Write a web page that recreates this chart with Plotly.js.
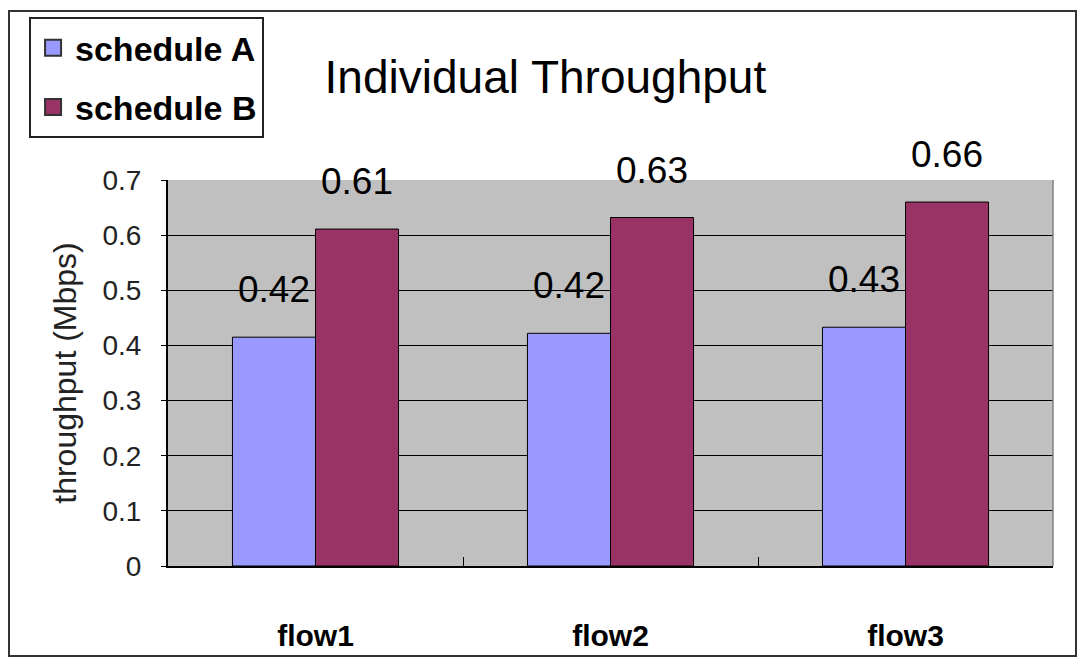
<!DOCTYPE html>
<html>
<head>
<meta charset="utf-8">
<script src="https://cdn.plot.ly/plotly-3.0.1.min.js"></script>
<style>
  html, body { margin: 0; padding: 0; background: #fff; }
  #wrap { position: relative; width: 1080px; height: 659px; }
  #chart { position: absolute; left: 0; top: 0; width: 1080px; height: 659px; }
  #frame { position: absolute; left: 8px; top: 10px; width: 1065px; height: 643px;
           border: 2px solid #333; pointer-events: none; }
</style>
</head>
<body>
<div id="wrap">
  <div id="chart"></div>
  <div id="frame"></div>
</div>
<script>
const categories = ["flow1", "flow2", "flow3"];
const scheduleA = [0.415, 0.422, 0.433];
const scheduleB = [0.611, 0.632, 0.660];
const labelsA = ["0.42", "0.42", "0.43"];
const labelsB = ["0.61", "0.63", "0.66"];
const yTicks = [0, 0.1, 0.2, 0.3, 0.4, 0.5, 0.6, 0.7];
const yTickText = ["0", "0.1", "0.2", "0.3", "0.4", "0.5", "0.6", "0.7"];

const FONT = "Liberation Sans, Arial, sans-serif";
const colA = "#9999ff";
const colB = "#993366";

const traces = [
  { type: "bar", name: "schedule A", x: categories, y: scheduleA,
    marker: { color: colA, line: { color: "#000", width: 1 } }, showlegend: false },
  { type: "bar", name: "schedule B", x: categories, y: scheduleB,
    marker: { color: colB, line: { color: "#000", width: 1 } }, showlegend: false },
  { type: "scatter", mode: "markers", name: "schedule A", x: [null], y: [null],
    legendgroup: "a", marker: { symbol: "square", size: 16, color: colA, line: { color: "#333", width: 2 } } },
  { type: "scatter", mode: "markers", name: "schedule B", x: [null], y: [null],
    legendgroup: "b", marker: { symbol: "square", size: 16, color: colB, line: { color: "#333", width: 2 } } }
];

const annotations = [];
categories.forEach((c, i) => {
  annotations.push({ x: c, y: scheduleA[i], text: labelsA[i], xref: "x", yref: "y",
    showarrow: false, xshift: -41.5, yshift: 25, yanchor: "bottom",
    font: { family: FONT, size: 37, color: "#000" } });
  annotations.push({ x: c, y: scheduleB[i], text: labelsB[i], xref: "x", yref: "y",
    showarrow: false, xshift: 41.5, yshift: 25, yanchor: "bottom",
    font: { family: FONT, size: 37, color: "#000" } });
});

const layout = {
  width: 1080, height: 659,
  margin: { l: 168, r: 27, t: 180, b: 93 },
  paper_bgcolor: "#ffffff",
  plot_bgcolor: "#c0c0c0",
  font: { family: FONT, color: "#000" },
  title: { text: "Individual Throughput", x: 0.505, xanchor: "center", y: 0.883, yanchor: "middle",
           font: { family: FONT, size: 46, color: "#000" } },
  barmode: "group",
  bargap: 0.437,
  bargroupgap: 0,
  showlegend: true,
  legend: {
    x: -0.157, xanchor: "left", y: 1.422, yanchor: "top",
    bgcolor: "#fff", bordercolor: "#222", borderwidth: 2,
    font: { family: FONT, size: 34, color: "#000", weight: "bold" },
    traceorder: "grouped", tracegroupgap: 12, itemwidth: 34
  },
  xaxis: {
    type: "category",
    showgrid: false,
    showline: true, linecolor: "#000", linewidth: 2,
    ticks: "inside", tickson: "boundaries", ticklen: 9, tickcolor: "#000", tickwidth: 1,
    ticklabelstandoff: 42,
    tickfont: { family: FONT, size: 30, color: "#000", weight: "bold" },
    fixedrange: true
  },
  yaxis: {
    range: [0, 0.7],
    tickvals: yTicks, ticktext: yTickText,
    showgrid: true, gridcolor: "#000", gridwidth: 1,
    zeroline: false,
    showline: true, linecolor: "#000", linewidth: 2,
    ticks: "outside", ticklen: 5, tickcolor: "#000",
    ticklabelstandoff: 14,
    tickfont: { family: FONT, size: 28, color: "#222" },
    title: { text: "throughput (Mbps)", standoff: 16, font: { family: FONT, size: 32, color: "#222" } },
    fixedrange: true
  },
  shapes: [
    { type: "line", xref: "paper", yref: "paper", x0: 1, x1: 1, y0: 0, y1: 1,
      line: { color: "#808080", width: 1.5 } }
  ],
  annotations: annotations
};

Plotly.newPlot("chart", traces, layout, { displayModeBar: false, staticPlot: true });
</script>
</body>
</html>
